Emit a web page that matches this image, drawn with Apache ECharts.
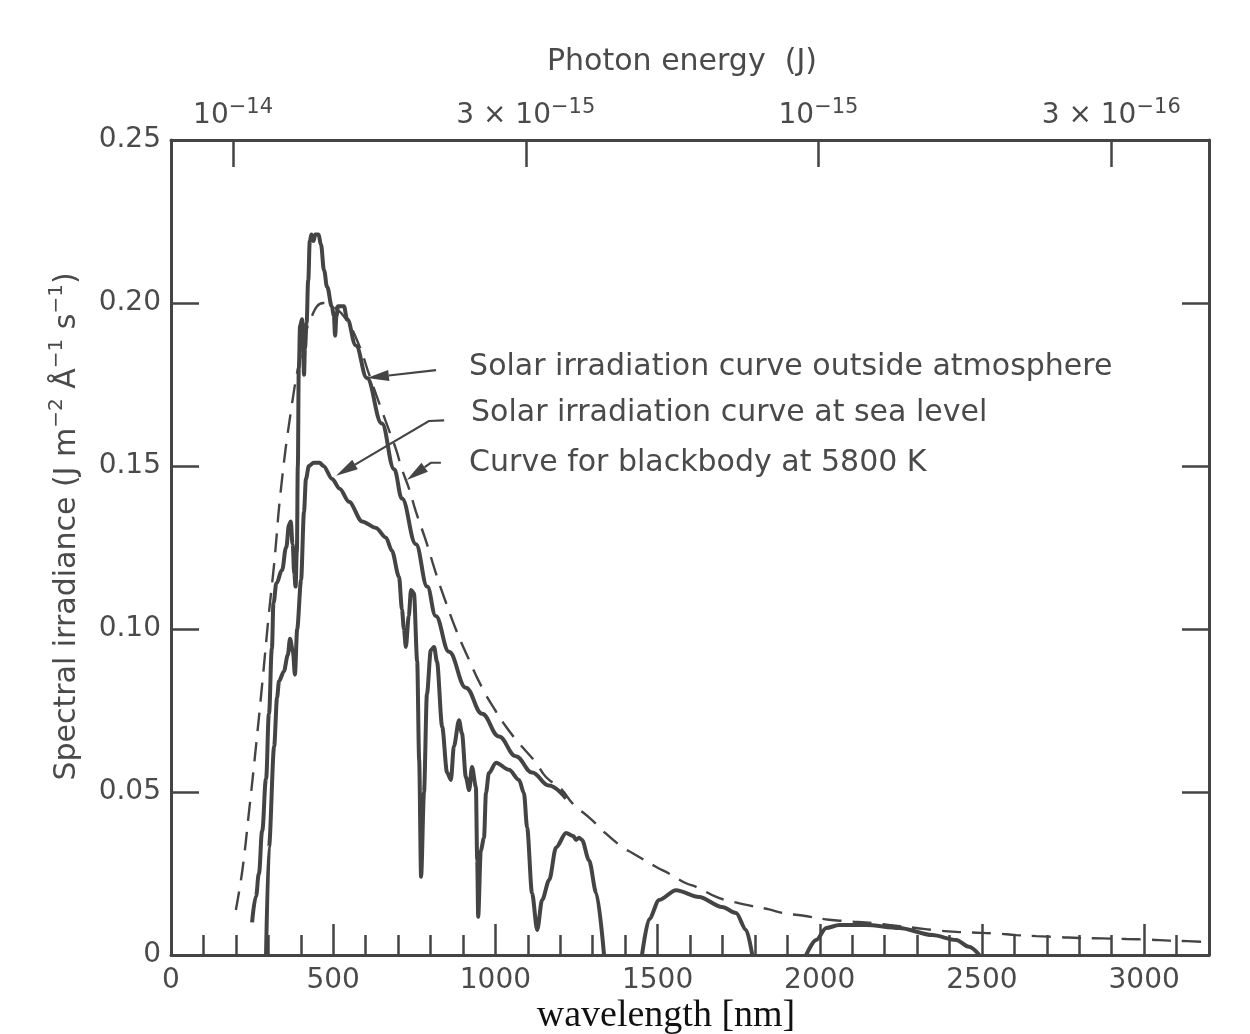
<!DOCTYPE html>
<html><head><meta charset="utf-8">
<script src="https://cdn.jsdelivr.net/npm/echarts@6/dist/echarts.min.js"></script>
<style>html,body{margin:0;padding:0;background:#fff}#main{width:1250px;height:1034px}</style>
</head><body><div id="main"></div>
<script>
// ---- data (wavelength nm, spectral irradiance) ----
const blackbody5800K = [[200,0.0138],[220,0.026],[240,0.0435],[262,0.064],[282,0.084],[302,0.105],[318,0.120],[339,0.143],[370,0.167],[400,0.184],[430,0.195],[470,0.200],[500,0.199],[540,0.195],[580,0.187],[611,0.178],[650,0.167],[672,0.161],[694,0.155],[712,0.149],[734,0.143],[755,0.136],[786,0.127],[817,0.117],[848,0.108],[879,0.0997],[910,0.0925],[959,0.082],[1000,0.075],[1033,0.070],[1064,0.066],[1125,0.059],[1156,0.0546],[1206,0.0506],[1237,0.0466],[1298,0.0414],[1329,0.0383],[1391,0.0331],[1422,0.0313],[1496,0.027],[1535,0.025],[1588,0.022],[1619,0.0209],[1681,0.0178],[1721,0.0166],[1782,0.0152],[1844,0.0140],[1884,0.0129],[1946,0.0121],[2029,0.0108],[2081,0.0104],[2174,0.0097],[2214,0.0092],[2297,0.0083],[2347,0.0077],[2421,0.0071],[2470,0.0069],[2544,0.0066],[2606,0.0061],[2667,0.0058],[2738,0.0055],[2800,0.0052],[2871,0.0051],[2945,0.0049],[3016,0.0047],[3077,0.0044],[3117,0.0043],[3191,0.0040]];

const outsideAtmosphere = [[250,0.010],[262,0.018],[271,0.025],[281,0.038],[293,0.054],[302,0.074],[311,0.094],[316,0.108],[325,0.114],[342,0.118],[355,0.125],[364,0.132],[369,0.133],[375,0.126],[380,0.117],[384,0.113],[388,0.124],[391,0.150],[394,0.180],[398,0.193],[404,0.195],[407,0.190],[410,0.178],[413,0.186],[418,0.194],[423,0.207],[428,0.219],[433,0.221],[439,0.219],[445,0.221],[455,0.221],[462,0.218],[472,0.210],[481,0.205],[496,0.199],[502,0.196],[506,0.190],[510,0.196],[515,0.199],[533,0.199],[543,0.195],[570,0.187],[604,0.177],[650,0.163],[688,0.149],[712,0.140],[755,0.126],[790,0.113],[816,0.104],[857,0.093],[909,0.082],[959,0.074],[1011,0.067],[1063,0.061],[1113,0.056],[1165,0.052],[1218,0.048]];

const seaLevel = [[293,0],[302,0.033],[318,0.064],[327,0.079],[333,0.084],[348,0.087],[360,0.092],[367,0.097],[376,0.093],[382,0.086],[389,0.100],[401,0.115],[410,0.136],[416,0.146],[425,0.150],[440,0.151],[458,0.151],[470,0.150],[497,0.146],[520,0.143],[549,0.139],[589,0.133],[632,0.131],[663,0.128],[681,0.124],[703,0.116],[712,0.106],[718,0.100],[724,0.0945],[733,0.104],[740,0.112],[749,0.111],[759,0.090],[765,0.060],[771,0.024],[780,0.050],[789,0.080],[801,0.0935],[811,0.0945],[820,0.090],[836,0.070],[851,0.056],[863,0.0537],[872,0.064],[888,0.072],[897,0.068],[909,0.0546],[919,0.0506],[928,0.0577],[940,0.0515],[944,0.029],[947,0.0117],[955,0.032],[965,0.036],[971,0.0497],[980,0.0558],[1002,0.059],[1042,0.0568],[1073,0.0537],[1088,0.0497],[1098,0.039],[1113,0.019],[1129,0.0077],[1144,0.0169],[1166,0.023],[1187,0.033],[1218,0.0374],[1240,0.0365],[1249,0.0353],[1258,0.036],[1267,0.0353],[1289,0.029],[1311,0.019],[1335,0],[1390,null],[1452,0],[1474,0.011],[1505,0.0169],[1557,0.0199],[1628,0.0178],[1699,0.0147],[1742,0.0129],[1773,0.0077],[1792,0],[1880,null],[1958,0],[1989,0.0046],[2020,0.0083],[2060,0.0092],[2143,0.0092],[2245,0.0083],[2347,0.0061],[2421,0.0046],[2460,0.0025],[2492,0]];

// ---- tick labels ----
const xTickLabels = [0, 500, 1000, 1500, 2000, 2500, 3000];
const yTickValues = [0, 0.05, 0.10, 0.15, 0.20, 0.25];
const topTickExponents = [-14, -14.5, -15, -15.5];
const topTickLabels = ['10^−14', '3 × 10^−15', '10^−15', '3 × 10^−16'];

const FONT = 'DejaVu Sans';
const TXT = '#4a4a4a';
const LINE = '#444444';

const supRich = (fs, sfs, lh, slh) => ({
  b: {fontFamily: FONT, fontSize: fs, color: TXT, lineHeight: lh, verticalAlign: 'middle'},
  s: {fontFamily: FONT, fontSize: sfs, color: TXT, lineHeight: slh, verticalAlign: 'top'}
});
const axisLineStyle = {show: true, onZero: false, lineStyle: {color: LINE, width: 3}};

const chart = echarts.init(document.getElementById('main'));
const option = {
  animation: false,
  backgroundColor: '#ffffff',
  grid: {left: 171, right: 41, top: 140, bottom: 79, containLabel: false, outerBoundsMode: 'none'},
  xAxis: [
    {
      type: 'value', position: 'bottom', min: 0, max: 3200, interval: 100,
      name: 'wavelength [nm]', nameLocation: 'middle', nameGap: 42, nameMoveOverlap: false,
      nameTextStyle: {fontFamily: 'Liberation Serif', fontSize: 38, color: '#111', padding: [0, 48, 0, 0]},
      axisLine: axisLineStyle,
      axisTick: {show: true, inside: true, length: 20, lineStyle: {color: LINE, width: 2.5}},
      axisLabel: {customValues: xTickLabels, fontFamily: FONT, fontSize: 28, color: TXT, margin: 12,
        formatter: v => String(v)},
      splitLine: {show: false}
    },
    {
      type: 'value', position: 'top', min: -15.667, max: -13.894, inverse: true,
      name: 'Photon energy  (J)', nameLocation: 'middle', nameGap: 63,
      nameTextStyle: {fontFamily: FONT, fontSize: 30, color: TXT, padding: [0, 16, 0, 0]},
      axisLine: axisLineStyle,
      axisTick: {show: true, inside: true, length: 27, customValues: topTickExponents, lineStyle: {color: LINE, width: 2.5}},
      axisLabel: {
        customValues: topTickExponents, margin: 5,
        formatter: v => {
          const i = topTickExponents.findIndex(e => Math.abs(e - v) < 1e-6);
          if (i < 0) return '';
          const parts = topTickLabels[i].split('^');
          return '{b|' + parts[0] + '}{s|' + parts[1] + '}';
        },
        rich: supRich(28, 21, 38, 28)
      },
      splitLine: {show: false}
    },
    {
      type: 'value', position: 'bottom', min: 0, max: 3200,
      axisLine: {show: false, onZero: false},
      axisTick: {show: true, inside: true, length: 31, customValues: xTickLabels.filter(v => v > 0), lineStyle: {color: LINE, width: 2.5}},
      axisLabel: {show: false},
      splitLine: {show: false}
    }
  ],
  yAxis: [
    {
      type: 'value', position: 'left', min: 0, max: 0.25, interval: 0.05,
      name: '{b|Spectral irradiance (J m}{s|−2}{b| Å}{s|−1}{b| s}{s|−1}{b|)}',
      nameLocation: 'middle', nameRotate: 90, nameGap: 84,
      nameTextStyle: {padding: [0, 0, 0, 42], rich: supRich(30, 20, 40, 30)},
      axisLine: axisLineStyle,
      axisTick: {show: true, inside: true, length: 28, lineStyle: {color: LINE, width: 2.5}},
      axisLabel: {fontFamily: FONT, fontSize: 28, color: TXT, margin: 10,
        customValues: yTickValues,
        formatter: v => v === 0 ? '0' : v.toFixed(2)},
      splitLine: {show: false}
    },
    {
      type: 'value', position: 'right', min: 0, max: 0.25, interval: 0.05,
      axisLine: axisLineStyle,
      axisTick: {show: true, inside: true, length: 27, lineStyle: {color: LINE, width: 2.5}},
      axisLabel: {show: false},
      splitLine: {show: false}
    }
  ],
  series: [
    {
      name: 'Curve for blackbody at 5800 K', type: 'line', xAxisIndex: 0, yAxisIndex: 0,
      data: blackbody5800K, showSymbol: false, smooth: 0.45,
      lineStyle: {color: LINE, width: 2.4, type: [19, 11]}, z: 3
    },
    {
      name: 'Solar irradiation curve outside atmosphere', type: 'line', xAxisIndex: 0, yAxisIndex: 0,
      data: outsideAtmosphere, showSymbol: false, smooth: 0.4, smoothMonotone: 'x',
      lineStyle: {color: LINE, width: 4}, z: 4
    },
    {
      name: 'Solar irradiation curve at sea level', type: 'line', xAxisIndex: 0, yAxisIndex: 0,
      data: seaLevel.map(p => [p[0], p[1] === null ? '-' : p[1]]), showSymbol: false,
      smooth: 0.3, smoothMonotone: 'x', connectNulls: false,
      lineStyle: {color: LINE, width: 4}, z: 4
    }
  ]
};
chart.setOption(option);

// ---- annotations with arrows (anchored in data coordinates) ----
const annotations = [
  {text: 'Solar irradiation curve outside atmosphere', at: [919, 0.1804], path: [[817, 0.1794], [604, 0.177]]},
  {text: 'Solar irradiation curve at sea level', at: [925, 0.1663], path: [[842, 0.164], [795, 0.1638], [509, 0.147]]},
  {text: 'Curve for blackbody at 5800 K', at: [919, 0.151], path: [[832, 0.151], [801, 0.151], [727, 0.1457]]}
];
const g = [];
annotations.forEach(a => {
  const pts = a.path.map(p => chart.convertToPixel({seriesIndex: 0}, p));
  const tip = pts[pts.length - 1], prev = pts[pts.length - 2];
  const dx = tip[0] - prev[0], dy = tip[1] - prev[1], len = Math.hypot(dx, dy);
  const ux = dx / len, uy = dy / len, L = 22, W = 5.5;
  const base = [tip[0] - ux * L, tip[1] - uy * L];
  const linePts = pts.slice(0, -1).concat([base]);
  g.push({type: 'polyline', shape: {points: linePts}, style: {stroke: LINE, lineWidth: 2.2, fill: 'none'}, z: 100});
  g.push({type: 'polygon', shape: {points: [tip, [base[0] - uy * W, base[1] + ux * W], [base[0] + uy * W, base[1] - ux * W]]}, style: {fill: LINE}, z: 100});
  const tp = chart.convertToPixel({seriesIndex: 0}, a.at);
  g.push({type: 'text', x: tp[0], y: tp[1], style: {text: a.text, fontSize: 30, fontFamily: FONT, fill: TXT, align: 'left', verticalAlign: 'middle'}, z: 100});
});
chart.setOption({graphic: g});
</script></body></html>
